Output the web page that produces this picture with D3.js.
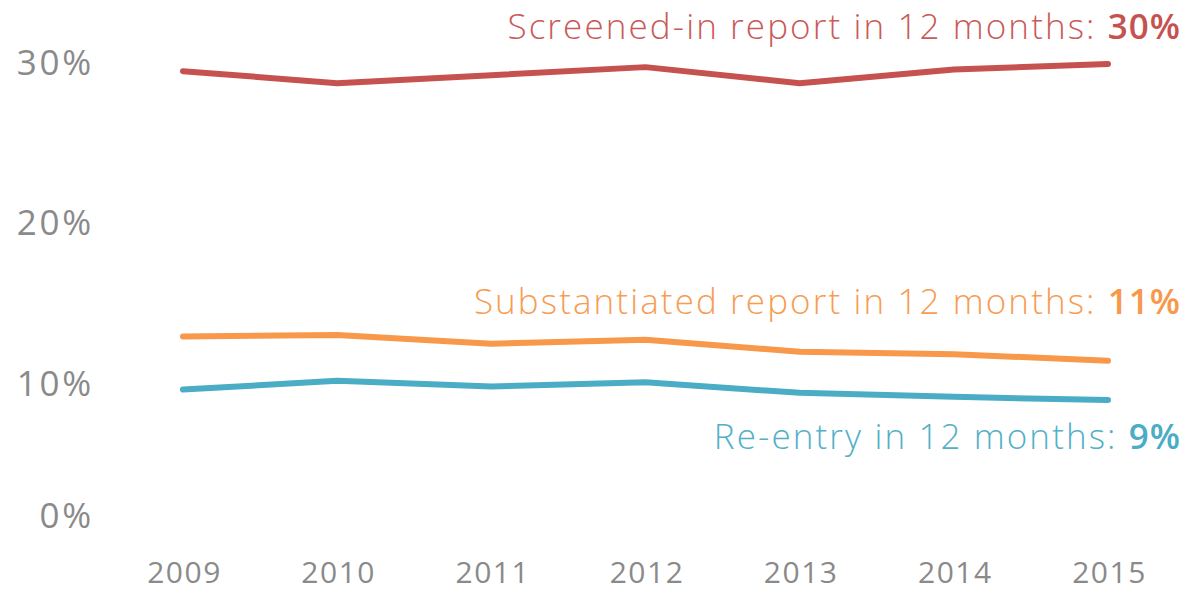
<!DOCTYPE html>
<html>
<head>
<meta charset="utf-8">
<script src="https://cdn.jsdelivr.net/npm/d3@7"></script>
<style>
  html, body { margin: 0; padding: 0; background: #fff; }
  svg { display: block; }
  text { font-family: "Open Sans", sans-serif; }
</style>
</head>
<body>
<svg id="chart" width="1183" height="590"></svg>
<script>
const years = [2009, 2010, 2011, 2012, 2013, 2014, 2015];
const screenedIn = [29.4, 28.65, 29.15, 29.65, 28.65, 29.5, 29.85];
const substantiated = [12.9, 13.0, 12.45, 12.7, 11.95, 11.8, 11.4];
const reentry = [9.6, 10.15, 9.8, 10.05, 9.4, 9.15, 8.95];
const yTicks = [0, 10, 20, 30];
const seriesNames = ["Screened-in report in 12 months: ", "Substantiated report in 12 months: ", "Re-entry in 12 months: "];
const seriesLabelValues = ["30%", "11%", "9%"];
const seriesColors = ["#c65250", "#f7984a", "#4aacc5"];

const svg = d3.select("#chart");
const x = d3.scalePoint().domain(years).range([183, 1108]);
const y = d3.scaleLinear().domain([0, 30]).range([544, 61.5]);

// Y axis
const yAxis = svg.append("g").attr("transform", "translate(94,0)")
  .call(d3.axisLeft(y).tickValues(yTicks).tickSize(0).tickPadding(0).tickFormat(d => d + "%"));
yAxis.select(".domain").remove();
yAxis.selectAll("text")
  .attr("fill", "#8a8a8a").attr("font-size", 35).attr("letter-spacing", 2.8)
  .attr("font-family", "'Open Sans', sans-serif")
  .attr("dy", d => d === 0 ? "-0.47em" : "0.36em");

// X axis
const xAxis = svg.append("g").attr("transform", "translate(1,560)")
  .call(d3.axisBottom(x).tickSize(0).tickPadding(0).tickFormat(d3.format("d")));
xAxis.select(".domain").remove();
xAxis.selectAll("text")
  .attr("fill", "#8a8a8a").attr("font-size", 30).attr("letter-spacing", 1.5)
  .attr("font-family", "'Open Sans', sans-serif")
  .attr("dy", "0.78em");

const line = d3.line().x((d, i) => x(years[i])).y(d => y(d));
const allSeries = [screenedIn, substantiated, reentry];
allSeries.forEach((s, k) => {
  svg.append("path").datum(s)
    .attr("d", line)
    .attr("fill", "none")
    .attr("stroke", seriesColors[k])
    .attr("stroke-width", 6)
    .attr("stroke-linecap", "round")
    .attr("stroke-linejoin", "round");
});

const labelBaselines = [39, 314, 449];
seriesNames.forEach((n, k) => {
  const t = svg.append("text")
    .attr("x", 1181).attr("y", labelBaselines[k])
    .attr("text-anchor", "end")
    .attr("font-size", 35)
    .attr("letter-spacing", 2.1)
    .attr("fill", seriesColors[k]);
  t.append("tspan").text(n).attr("font-weight", 300).attr("opacity", 0.95);
  t.append("tspan").text(seriesLabelValues[k]).attr("font-weight", 600).attr("letter-spacing", 1);
});
</script>
</body>
</html>
